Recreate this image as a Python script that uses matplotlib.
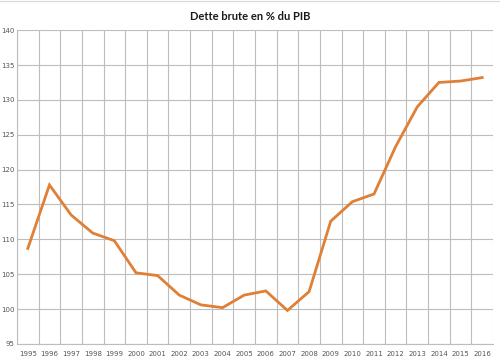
import matplotlib
matplotlib.use("Agg")
import matplotlib.pyplot as plt
import numpy as np

# Dette brute en % du PIB
years = [1995, 1996, 1997, 1998, 1999, 2000, 2001, 2002, 2003, 2004, 2005,
         2006, 2007, 2008, 2009, 2010, 2011, 2012, 2013, 2014, 2015, 2016]
dette = [108.7, 117.8, 113.5, 110.9, 109.8, 105.2, 104.8, 102.0, 100.6, 100.2, 102.0,
         102.6, 99.8, 102.5, 112.6, 115.4, 116.5, 123.3, 129.0, 132.5, 132.7, 133.2]
y_ticks = [95, 100, 105, 110, 115, 120, 125, 130, 135, 140]

fig = plt.figure(figsize=(5, 3.59), dpi=100)
ax = fig.add_axes([0.034, 0.042, 0.952, 0.874])

x = np.arange(len(years))
ax.plot(x, dette, color='#E07F36', linewidth=2.0, solid_joinstyle='miter', zorder=3)

ax.set_xlim(-0.5, len(years) - 0.5)
ax.set_ylim(95, 140)
ax.set_yticks(y_ticks)
ax.set_yticklabels([str(v) for v in y_ticks])
ax.set_xticks(x)
ax.set_xticklabels([str(y) for y in years])
ax.set_xticks(np.arange(-0.5, len(years)), minor=True)

# grid: horizontal at major y ticks, vertical at category boundaries
ax.grid(True, axis='y', which='major', color='#BDBDBD', linewidth=0.8)
ax.grid(True, axis='x', which='minor', color='#BDBDBD', linewidth=0.8)
ax.tick_params(axis='both', which='both', length=0, labelsize=5, labelcolor='#555555')
ax.tick_params(axis='x', pad=5)
ax.tick_params(axis='y', pad=2)

for s in ['top', 'right']:
    ax.spines[s].set_visible(False)
for s in ['left', 'bottom']:
    ax.spines[s].set_color('#BDBDBD')
    ax.spines[s].set_linewidth(0.8)

fig.text(0.5, 0.955, 'Dette brute en % du PIB', ha='center', va='center',
         fontsize=8, fontweight='bold', family='Lato', color='#1a1a1a')

# thin grey rule along the top edge of the image
fig.add_artist(plt.Line2D([0, 1], [0.996, 0.996], transform=fig.transFigure,
                          color='#D8D8D8', linewidth=0.8))

fig.savefig('out.png', dpi=100)
